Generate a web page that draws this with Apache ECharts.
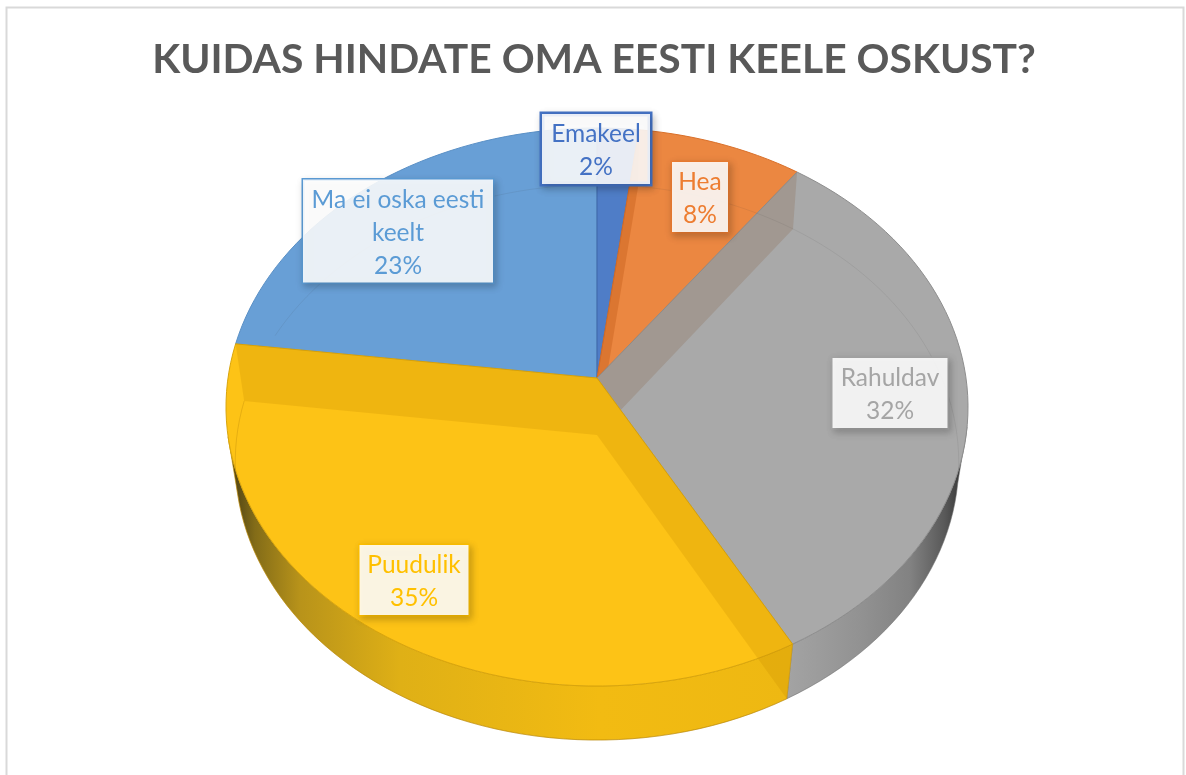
<!DOCTYPE html>
<html>
<head>
<meta charset="utf-8">
<title>Eesti keele oskus</title>
<script src="https://cdn.jsdelivr.net/npm/echarts@6/dist/echarts.min.js"></script>
<style>
  html, body { margin: 0; background: #fff; }
  #chart { width: 1186px; height: 775px; }
</style>
</head>
<body>
<div id="chart"></div>
<script>
const CATEGORIES = ['Emakeel', 'Hea', 'Rahuldav', 'Puudulik', 'Ma ei oska eesti\nkeelt']
const SHARES = [2, 8, 32, 35, 23]

const FACE_COLORS = ['#4F7DC7', '#EB8741', '#A9A9A9', '#FDC316', '#689FD6']
const EDGE_COLORS = ['#3F66A8', '#D9702A', '#8E8E8E', '#D9A50C', '#5A90C6']
const LABEL_COLORS = ['#4472C4', '#ED7D31', '#A5A5A5', '#FFC000', '#5B9BD5']
// see-through inner walls of a slice
const BAND_COLORS = ['', 'rgba(190,85,20,0.35)', 'rgba(150,130,115,0.45)', 'rgba(200,140,0,0.25)', '']

// label boxes: centre x, centre y, width
const LABEL_BOXES = [
  [596, 149, 104],
  [700, 197, 52],
  [890, 393, 111],
  [414, 580, 105],
  [398, 231, 186],
]

// perspective of the disc, top face and bottom face
const TOP = { cx: 597, cy: 378, a: 369, b: 276, p: 0.104 }
const BOTTOM = { cx: 597, cy: 435, a: 360, b: 275, p: 0.0985 }

const total = SHARES.reduce((s, v) => s + v, 0)
const startAngle = i => SHARES.slice(0, i).reduce((s, v) => s + v, 0) / total * 360

function project(f, deg) {
  const t = deg * Math.PI / 180
  const c = Math.cos(t), s = Math.sin(t)
  const d = 1 + f.p * c
  return [f.cx + f.a * s / d, f.cy - f.b * c / d]
}

function rim(f, from, to) {
  const pts = []
  const n = Math.max(2, Math.ceil(Math.abs(to - from) / 2))
  for (let k = 0; k <= n; k++) pts.push(project(f, from + (to - from) * k / n))
  return pts
}

const gradient = stops => new echarts.graphic.LinearGradient(226, 0, 968, 0,
  stops.map(([x, color]) => ({ offset: (x - 226) / 742, color })), true)

const YELLOW_WALL = gradient([[232, '#4e4214'], [255, '#836c18'], [300, '#b8931a'], [400, '#dfb016'], [600, '#f2bb12'], [790, '#eeb812']])
const GRAY_WALL = gradient([[785, '#a4a4a4'], [860, '#929292'], [910, '#828282'], [945, '#585858'], [968, '#2c2c2c']])

function renderSlice(params, api) {
  const i = params.dataIndex
  const value = api.value(0)
  const a0 = startAngle(i)
  const a1 = a0 + value / total * 360
  const order = (i + 1) % SHARES.length
  const children = []

  // outer wall, only on the front half
  const w0 = Math.max(a0, 100), w1 = Math.min(a1, 258)
  if (w1 > w0) {
    children.push({
      type: 'polygon', z2: -1,
      shape: { points: rim(TOP, w0, w1).concat(rim(BOTTOM, w1, w0)) },
      style: { fill: i === 2 ? GRAY_WALL : YELLOW_WALL, stroke: i === 2 ? 'rgba(120,120,120,0.5)' : 'rgba(200,150,10,0.6)', lineWidth: 1 },
    })
  }

  // top face
  children.push({
    type: 'polygon', z2: order,
    shape: { points: [[TOP.cx, TOP.cy]].concat(rim(TOP, a0, a1)) },
    style: { fill: FACE_COLORS[i], stroke: EDGE_COLORS[i], lineWidth: 1 },
  })

  // inner walls showing through the face
  if (BAND_COLORS[i]) {
    const walls = i === 3 ? [a0, a1] : [a0]
    walls.forEach(a => {
      children.push({
        type: 'polygon', z2: order,
        shape: { points: [[TOP.cx, TOP.cy], project(TOP, a), project(BOTTOM, a), [BOTTOM.cx, BOTTOM.cy]] },
        style: { fill: BAND_COLORS[i] },
      })
    })
  }

  // faint bottom rim seen through the slice (on the blue one it leaves the disc before 292)
  const r0 = i === 4 ? 292 : a0
  if (i > 0) {
    children.push({
      type: 'polyline', z2: 6,
      shape: { points: rim(BOTTOM, r0, a1) },
      style: { fill: 'none', stroke: i === 3 ? 'rgba(150,100,0,0.22)' : 'rgba(60,60,60,0.09)', lineWidth: 1 },
    })
  }

  const [x, y, width] = LABEL_BOXES[i]
  const text = CATEGORIES[i] + '\n' + value + '%'
  const boxHeight = text.split('\n').length * 33 + 4
  children.push({
    type: 'text', z2: 10, x, y: y - boxHeight / 2,
    style: {
      text,
      width, lineHeight: 33,
      align: 'center', verticalAlign: 'top',
      fill: LABEL_COLORS[i],
      font: '24.5px Lato, "Noto Sans", sans-serif',
      backgroundColor: 'rgba(255,255,255,0.88)',
      borderColor: LABEL_COLORS[i], borderWidth: i === 0 ? 2.5 : 1.5,
      padding: [4, 2, 0, 2],
      shadowBlur: 7, shadowOffsetX: 2, shadowOffsetY: 3, shadowColor: 'rgba(0,0,0,0.2)',
    },
  })

  return { type: 'group', children }
}

const chart = echarts.init(document.getElementById('chart'))
chart.setOption({
  backgroundColor: '#fff',
  animation: false,
  title: {
    text: 'KUIDAS HINDATE OMA EESTI KEELE OSKUST?',
    left: 589, top: 34, textAlign: 'center',
    textStyle: { color: '#595959', fontSize: 40.8, fontWeight: 'bold', fontFamily: 'Lato, "Noto Sans", sans-serif' },
  },
  graphic: [{
    type: 'rect', silent: true, z: -10,
    shape: { x: 6.5, y: 7.5, width: 1177, height: 800 },
    style: { fill: 'none', stroke: '#D9D9D9', lineWidth: 2 },
  }],
  series: [{
    type: 'custom',
    coordinateSystem: 'none',
    renderItem: renderSlice,
    data: SHARES,
  }],
})
</script>
</body>
</html>
